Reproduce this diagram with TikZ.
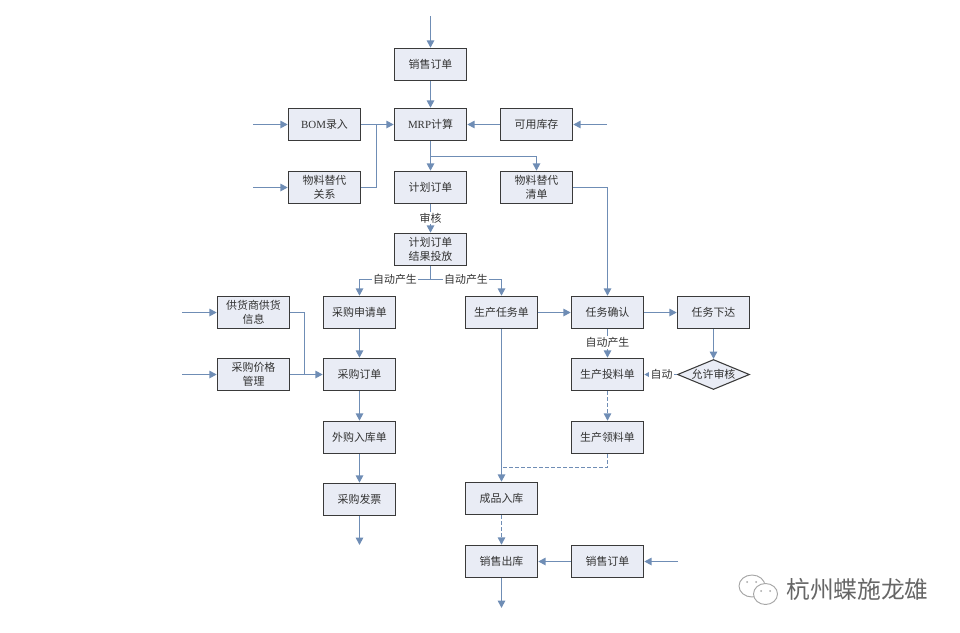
\documentclass[tikz,border=0pt]{standalone}
\usepackage{fontspec}
\setmainfont{Noto Sans CJK SC}
\newfontfamily\latfont{Liberation Serif}
\usetikzlibrary{arrows.meta,shapes.geometric}
\definecolor{lineblue}{HTML}{6F8DB5}
\definecolor{boxfill}{HTML}{E9ECF5}
\definecolor{boxline}{HTML}{3A3A3A}
\definecolor{txt}{HTML}{333333}
\tikzset{
 box/.style={draw=boxline,line width=1.1pt,fill=boxfill,minimum width=54pt,minimum height=24pt,inner sep=0pt,align=center,font=\fontsize{8.2pt}{10.5pt}\selectfont,text=txt},
 gate/.style={diamond,aspect=2.37,draw=boxline,line width=0.8pt,fill=boxfill,minimum width=54pt,minimum height=22.5pt,inner sep=0pt,font=\fontsize{8.2pt}{10pt}\selectfont,text=txt},
 link/.style={draw=lineblue,line width=1.25pt},
 flow/.style={link,-{Triangle[length=5.5pt,width=5.5pt]}},
 dashlink/.style={link,dash pattern=on 2.5pt off 2pt,line width=1pt},
 dashflow/.style={dashlink,-{Triangle[length=5.5pt,width=5.5pt,fill=lineblue]}},
 tag/.style={fill=white,inner sep=1pt,font=\fontsize{8.2pt}{10pt}\selectfont,text=txt}
}
\begin{document}
\begin{tikzpicture}[x=0.75pt,y=-0.75pt]
\useasboundingbox (0,0) rectangle (960,632);
\node[box] (so1) at (430.5,64.5) {销售订单};
\node[box] (bom) at (324.5,124.5) {{\latfont BOM}录入};
\node[box] (mrp) at (430.5,124.5) {{\latfont MRP}计算};
\node[box] (stock) at (536.5,124.5) {可用库存};
\node[box] (subrel) at (324.5,187.5) {物料替代\\关系};
\node[box] (plan) at (430.5,187.5) {计划订单};
\node[box] (sublist) at (536.5,187.5) {物料替代\\清单};
\node[box] (release) at (430.5,249.5) {计划订单\\结果投放};
\node[box] (supplier) at (253.5,312.5) {供货商供货\\信息};
\node[box] (preq) at (359.5,312.5) {采购申请单};
\node[box] (ptask) at (501.5,312.5) {生产任务单};
\node[box] (confirm) at (607.5,312.5) {任务确认};
\node[box] (issue) at (713.5,312.5) {任务下达};
\node[box] (price) at (253.5,374.5) {采购价格\\管理};
\node[box] (po) at (359.5,374.5) {采购订单};
\node[box] (feed) at (607.5,374.5) {生产投料单};
\node[gate] (allow) at (713.5,374.5) {允许审核};
\node[box] (inbound) at (359.5,437.5) {外购入库单};
\node[box] (pick) at (607.5,437.5) {生产领料单};
\node[box] (invoice) at (359.5,499.5) {采购发票};
\node[box] (fg) at (501.5,498.5) {成品入库};
\node[box] (ship) at (501.5,561.5) {销售出库};
\node[box] (so2) at (607.5,561.5) {销售订单};

\coordinate (inso) at (430.5,16);
\coordinate (inbom) at (253,124.5);
\coordinate (insub) at (253,187.5);
\coordinate (instock) at (607,124.5);
\coordinate (insup) at (182,312.5);
\coordinate (inprice) at (182,374.5);
\coordinate (inso2) at (678,561.5);
\coordinate (outinv) at (359.5,545);
\coordinate (outship) at (501.5,608);
\coordinate (j1) at (376.5,124.5);
\coordinate (j2) at (430.5,156.5);
\coordinate (j3) at (430.5,279.5);
\coordinate (j4) at (304.5,374.5);
\coordinate (j5) at (501.5,467.5);

\draw[flow] (inso) -- (so1);
\draw[flow] (so1) -- (mrp);
\draw[flow] (inbom) -- (bom);
\draw[flow] (insub) -- (subrel);
\draw[flow] (bom) -- (mrp);
\draw[link] (subrel.east) -| (j1);
\draw[flow] (instock) -- (stock);
\draw[flow] (stock) -- (mrp);
\draw[flow] (mrp) -- (plan);
\draw[flow] (j2) -| (sublist.north);
\draw[flow] (plan) -- node[tag,pos=0.48] {审核} (release);
\draw[link] (release.south) -- (j3);
\draw[flow] (j3) -| node[tag,pos=0.25] {自动产生} (preq.north);
\draw[flow] (j3) -| node[tag,pos=0.25] {自动产生} (ptask.north);
\draw[flow] (insup) -- (supplier);
\draw[flow] (inprice) -- (price);
\draw[link] (supplier.east) -| (j4);
\draw[flow] (price) -- (po);
\draw[flow] (preq) -- (po);
\draw[flow] (po) -- (inbound);
\draw[flow] (inbound) -- (invoice);
\draw[flow] (invoice) -- (outinv);
\draw[flow] (ptask) -- (confirm);
\draw[flow] (sublist.east) -| (confirm.north);
\draw[flow] (confirm) -- (issue);
\draw[flow] (confirm) -- node[tag,pos=0.47] {自动产生} (feed);
\draw[flow] (issue) -- (allow);
\draw[flow] (allow) -- node[tag,pos=0.47] {自动} (feed);
\draw[dashflow] (feed) -- (pick);
\draw[dashlink] (pick.south) |- (j5);
\draw[flow] (ptask) -- (fg);
\draw[dashflow] (fg) -- (ship);
\draw[flow] (ship) -- (outship);
\draw[flow] (inso2) -- (so2);
\draw[flow] (so2) -- (ship);

\draw[gray!70,line width=0.7pt,fill=white] (752,586) ellipse [x radius=13,y radius=11];
\draw[gray!70,line width=0.7pt,fill=white] (765.5,594) ellipse [x radius=12,y radius=10.5];
\fill[gray!70] (747,582) circle (1) (756,582) circle (1) (761,591) circle (1) (770,591) circle (1);
\node[anchor=west,inner sep=0pt,text=gray!80!black,font=\fontsize{17.8pt}{20pt}\selectfont] (mark) at (786,589.5) {杭州蝶施龙雄};
\end{tikzpicture}
\end{document}
